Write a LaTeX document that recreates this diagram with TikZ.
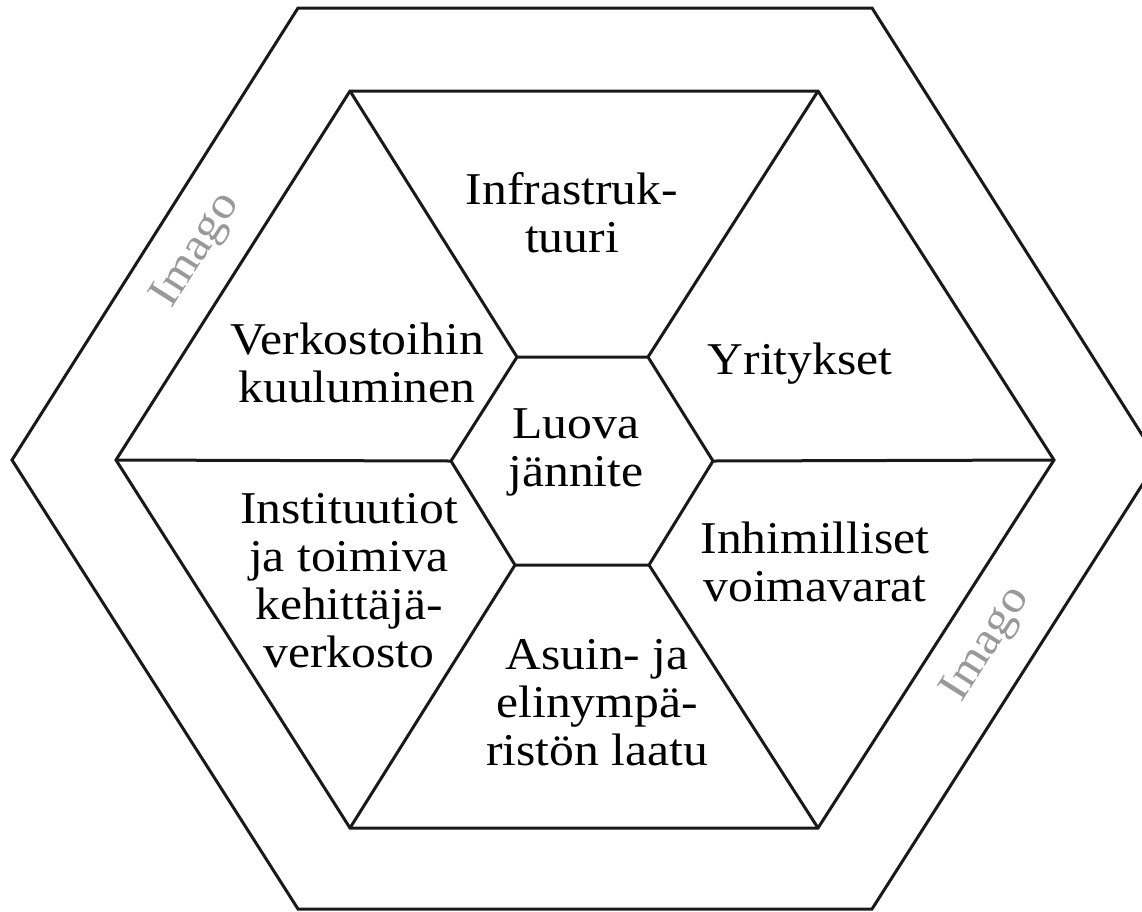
\documentclass[tikz,border=0pt]{standalone}
\usepackage{fontspec}
\setmainfont{Liberation Serif}[FakeStretch=1.09]
\usepackage{tikz}
\tikzstyle{Edge}=[draw=black!90, line width=3, line join=miter]
\tikzstyle{Label}=[align=center, font=\fontsize{45.5}{48}\selectfont, inner sep=0]
\tikzstyle{Imago}=[Label, text=black!40, rotate=57.7]

\begin{document}
\begin{tikzpicture}[x=1pt, y=-1pt]
    \useasboundingbox (0,0) rectangle (1142,911);
    \clip (0,0) rectangle (1142,911);
    \path
    coordinate (o1) at (12,460)
    coordinate (o2) at (298,8)
    coordinate (o3) at (872,8)
    coordinate (o4) at (1158,460)
    coordinate (o5) at (872,909)
    coordinate (o6) at (298,909)
    coordinate (i1) at (116,460)
    coordinate (i2) at (350,91)
    coordinate (i3) at (818,91)
    coordinate (i4) at (1054,460)
    coordinate (i5) at (818,828)
    coordinate (i6) at (350,828)
    coordinate (c1) at (451,461)
    coordinate (c2) at (517,357)
    coordinate (c3) at (648,357)
    coordinate (c4) at (713,461)
    coordinate (c5) at (649,565)
    coordinate (c6) at (515,565);

    \draw[Edge] (o1) -- (o2) -- (o3) -- (o4) -- (o5) -- (o6) -- cycle;
    \draw[Edge] (i1) -- (i2) -- (i3) -- (i4) -- (i5) -- (i6) -- cycle;
    \draw[Edge] (c1) -- (c2) -- (c3) -- (c4) -- (c5) -- (c6) -- cycle;
    \draw[Edge] (c1) -- (i1) (c2) -- (i2) (c3) -- (i3)
    (c4) -- (i4) (c5) -- (i5) (c6) -- (i6);

    \path
    (576,452) node[Label] (luova) {Luova\\jännite}
    (572,213) node[Label] (infra) {Infrastruk-\\tuuri}
    (800,364) node[Label] (yritykset) {Yritykset}
    (815,562) node[Label] (voimavarat) {Inhimilliset\\voimavarat}
    (597,703) node[Label] (laatu) {Asuin- ja\\elinympä-\\ristön laatu}
    (349,581) node[Label] (instituutiot) {Instituutiot\\ja toimiva\\kehittäjä-\\verkosto}
    (357,363) node[Label] (verkostot) {Verkostoihin\\kuuluminen}
    (197,251) node[Imago] (imagoleft) {Imago}
    (987,645) node[Imago] (imagoright) {Imago};
\end{tikzpicture}
\end{document}
